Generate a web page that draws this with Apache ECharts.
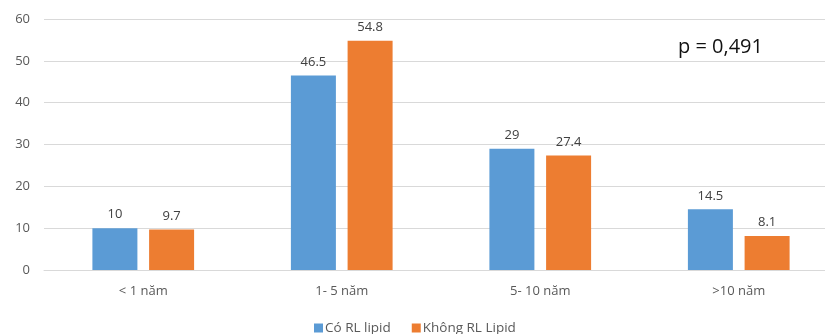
<!DOCTYPE html>
<html>
<head>
<meta charset="utf-8">
<script src="https://cdn.jsdelivr.net/npm/echarts@6/dist/echarts.min.js"></script>
<style>html,body{margin:0;padding:0;background:#fff}#c{width:825px;height:334px}</style>
</head>
<body>
<div id="c"></div>
<script>
var categories = ['< 1 năm', '1- 5 năm', '5- 10 năm', '>10 năm'];
var seriesNames = ['Có RL lipid', 'Không RL Lipid'];
var coRL = [10, 46.5, 29, 14.5];
var khongRL = [9.7, 54.8, 27.4, 8.1];
var yTicks = [0, 10, 20, 30, 40, 50, 60];
var pText = 'p = 0,491';

var font = '"Open Sans", "Noto Sans", sans-serif';
var chart = echarts.init(document.getElementById('c'));
chart.setOption({
  animation: false,
  textStyle: { fontFamily: font },
  grid: { left: 44, top: 19, right: -13, height: 251, outerBoundsMode: 'none', containLabel: false },
  legend: {
    data: seriesNames,
    bottom: -6,
    left: 309,
    itemWidth: 9,
    itemHeight: 9,
    itemGap: 21,
    icon: 'rect',
    textStyle: { fontFamily: font, fontSize: 13.5, color: '#595959', padding: [0, 0, 0, -3] }
  },
  xAxis: {
    type: 'category',
    data: categories,
    axisLine: { lineStyle: { color: '#d9d9d9' } },
    axisTick: { show: false },
    axisLabel: { color: '#595959', fontSize: 13, margin: 15, fontFamily: font }
  },
  yAxis: {
    type: 'value',
    min: yTicks[0],
    max: yTicks[yTicks.length - 1],
    interval: 10,
    axisLine: { show: false },
    axisTick: { show: false },
    axisLabel: { color: '#595959', fontSize: 13, margin: 14, fontFamily: font },
    splitLine: { lineStyle: { color: '#d9d9d9' } }
  },
  series: [
    {
      name: seriesNames[0], type: 'bar', data: coRL, barWidth: 45, barGap: '26%',
      itemStyle: { color: '#5B9BD5' },
      label: { show: true, position: 'top', distance: 7, color: '#404040', fontSize: 13, fontFamily: font }
    },
    {
      name: seriesNames[1], type: 'bar', data: khongRL, barWidth: 45,
      itemStyle: { color: '#ED7D31' },
      label: { show: true, position: 'top', distance: 7, color: '#404040', fontSize: 13, fontFamily: font }
    }
  ],
  graphic: [
    { type: 'text', left: 678, top: 37, style: { text: pText, font: '20px ' + font, fill: '#111' } }
  ]
});
</script>
</body>
</html>
